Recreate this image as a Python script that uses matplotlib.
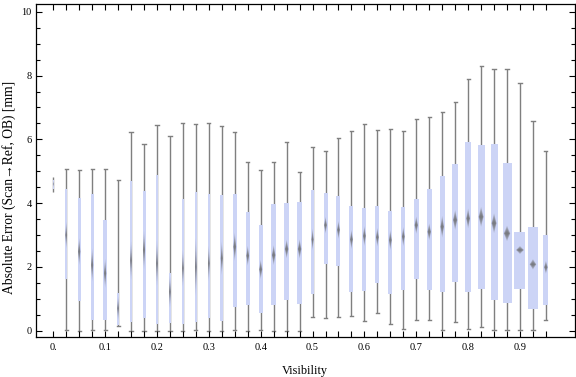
import numpy as np
import matplotlib
matplotlib.use("Agg")
import matplotlib.pyplot as plt
from matplotlib.patches import Rectangle, Polygon

plt.rcParams['font.family'] = ['Liberation Serif', 'DejaVu Serif']

# visibility bins (box positions)
visibility = np.round(np.arange(39) * 0.025, 3)

whisk_lo = [4.36, 0.02, 0.0, 0.03, 0.03, 0.15, 0.0, 0.0, 0.0, 0.0,
            0.0, 0.03, 0.0, 0.0, 0.03, 0.0, 0.03, 0.0, 0.0, 0.0,
            0.42, 0.39, 0.42, 0.45, 0.29, 0.55, 0.2, 0.04, 0.34, 0.34,
            0.02, 0.26, 0.04, 0.1, 0.02, 0.02, 0.02, 0.02, 0.34]
q1 = [4.45, 1.63, 0.94, 0.34, 0.34, 0.17, 0.27, 0.4, 0.22, 0.24,
      0.22, 0.28, 0.4, 0.31, 0.75, 0.82, 0.56, 0.8, 0.97, 0.85,
      1.14, 2.1, 2.04, 1.22, 1.25, 1.5, 1.16, 1.29, 1.63, 1.29,
      1.22, 1.54, 1.22, 1.32, 0.97, 0.88, 1.32, 0.69, 0.82]
median = [4.6, 3.0, 2.48, 2.06, 1.8, 0.7, 2.2, 2.53, 2.11, 1.22,
          1.96, 2.0, 2.11, 2.27, 2.63, 2.35, 1.92, 2.37, 2.56, 2.56,
          2.86, 3.31, 3.16, 2.86, 2.97, 2.93, 2.84, 2.95, 3.31, 3.1,
          3.26, 3.47, 3.52, 3.57, 3.37, 3.05, 2.53, 2.08, 1.99]
q3 = [4.72, 4.43, 4.16, 4.29, 3.47, 1.19, 4.68, 4.39, 4.88, 1.82,
      4.14, 4.35, 4.29, 4.25, 4.29, 3.72, 3.31, 3.97, 4.0, 4.03,
      4.41, 4.32, 4.22, 3.91, 3.85, 3.91, 3.75, 3.88, 4.13, 4.44,
      4.85, 5.23, 5.91, 5.81, 5.84, 5.25, 3.09, 3.25, 3.0]
whisk_hi = [4.81, 5.06, 5.03, 5.06, 5.06, 4.72, 6.23, 5.85, 6.45, 6.1,
            6.5, 6.47, 6.5, 6.41, 6.22, 5.28, 5.03, 5.28, 5.91, 4.97,
            5.75, 5.62, 6.03, 6.25, 6.47, 6.28, 6.34, 6.25, 6.63, 6.69,
            6.85, 7.16, 7.88, 8.3, 8.22, 8.22, 7.76, 6.56, 5.62]
# half height of the median diamond (confidence notch)
notch = [0.1, 0.42, 0.42, 0.52, 0.45, 0.37, 0.6, 0.6, 0.7, 0.5,
         0.57, 0.9, 0.55, 0.52, 0.44, 0.31, 0.3, 0.31, 0.29, 0.3,
         0.34, 0.26, 0.28, 0.3, 0.31, 0.29, 0.31, 0.3, 0.27, 0.26,
         0.34, 0.31, 0.31, 0.31, 0.31, 0.24, 0.125, 0.16, 0.2]
# box width (x data units), scales with sample count
box_width = [0.0019, 0.0048, 0.0064, 0.0058, 0.0064, 0.0048, 0.0052, 0.0058, 0.0052, 0.0052,
             0.0048, 0.0048, 0.0048, 0.0058, 0.0077, 0.0077, 0.0083, 0.0096, 0.0096, 0.0096,
             0.0058, 0.0077, 0.0077, 0.0077, 0.0077, 0.0077, 0.0077, 0.0077, 0.0091, 0.0096,
             0.0096, 0.0116, 0.0102, 0.0135, 0.0135, 0.0173, 0.0212, 0.0179, 0.0096]

tick_labels = ["0.", "0.1", "0.2", "0.3", "0.4", "0.5", "0.6", "0.7", "0.8", "0.9"]

box_color = "#ccd4f6"
whisk_color = "#7f7f7f"

fig = plt.figure(figsize=(5.76, 3.77), dpi=100)
ax = fig.add_axes([0.0625, 0.106, 0.9355, 0.883])

cap = 0.003
for x, lo, a, m, b, hi, n, w in zip(visibility, whisk_lo, q1, median, q3, whisk_hi, notch, box_width):
    ax.plot([x, x], [lo, hi], color=whisk_color, lw=1.0, zorder=1, solid_capstyle="butt")
    if w > 0.003:
        ax.plot([x - cap, x + cap], [lo, lo], color=whisk_color, lw=1.0, zorder=1)
        ax.plot([x - cap, x + cap], [hi, hi], color=whisk_color, lw=1.0, zorder=1)
    ax.add_patch(Rectangle((x - w / 2, a), w, b - a, facecolor=box_color,
                           edgecolor="none", zorder=2))
    # median diamond, drawn as nested layers to get a soft gradient
    dw = 0.36 * w
    for k in range(5):
        s = 1 - k / 5
        ax.add_patch(Polygon([(x - dw * (0.6 + 0.4 * s), m), (x, m + n * s),
                              (x + dw * (0.6 + 0.4 * s), m), (x, m - n * s)],
                             closed=True, facecolor="#666666", edgecolor="none",
                             alpha=0.28, zorder=3))

ax.set_xlim(-0.0333, 1.0058)
ax.set_ylim(-0.2, 10.24)

ax.set_xticks(visibility)
ax.set_xticklabels([tick_labels[i // 4] if i % 4 == 0 else "" for i in range(len(visibility))])
ax.set_yticks(np.arange(0, 11, 2))
ax.set_yticks(np.arange(0, 10.5, 0.5), minor=True)
ax.tick_params(axis="both", which="both", direction="in", top=True, right=True,
               labelsize=7.5, width=0.8, color="black")
ax.tick_params(axis="x", which="major", length=4, pad=4.5)
ax.tick_params(axis="y", which="major", length=4.5, pad=3)
ax.tick_params(axis="y", which="minor", length=3)
for sp in ax.spines.values():
    sp.set_linewidth(0.9)

fig.text(0.529, 1 - 371 / 377, "Visibility", fontsize=8.8, ha="center", va="center")
fig.text(0.0155, 1 - 187 / 377, "Absolute Error (Scan\u2192Ref, OB) [mm]", fontsize=9.8,
         rotation=90, ha="center", va="center")

fig.savefig("out.png", dpi=100)
